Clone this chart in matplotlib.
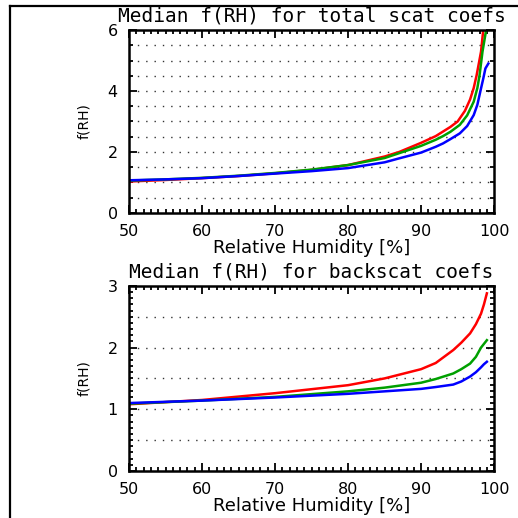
import matplotlib
matplotlib.use('Agg')
import matplotlib.pyplot as plt
from matplotlib.lines import Line2D
from matplotlib.ticker import MultipleLocator

# median f(RH) for total scattering coefficients
rh_tot_red = [50, 55, 60, 65, 70, 75, 80, 85, 87, 90, 92, 93, 94, 95, 96, 96.7, 97.2, 97.6, 98.2, 98.5]
tot_red = [1.03, 1.08, 1.14, 1.21, 1.30, 1.41, 1.57, 1.85, 2.0, 2.3, 2.52, 2.67, 2.82, 3.0, 3.35, 3.72, 4.1, 4.52, 5.29, 6.0]
rh_tot_green = [50, 55, 60, 65, 70, 75, 80, 85, 87, 90, 92, 93, 94, 95.3, 96.3, 97.2, 97.7, 98, 98.4, 98.9]
tot_green = [1.06, 1.10, 1.15, 1.22, 1.31, 1.42, 1.57, 1.80, 1.96, 2.2, 2.4, 2.52, 2.66, 2.89, 3.2, 3.65, 4.1, 4.52, 5.29, 6.0]
rh_tot_blue = [50, 55, 60, 65, 70, 75, 80, 85, 87, 90, 92, 93, 94, 95.3, 96.3, 97.2, 97.7, 98.1, 98.5, 98.8, 99.2]
tot_blue = [1.07, 1.10, 1.14, 1.21, 1.29, 1.37, 1.47, 1.66, 1.79, 1.98, 2.17, 2.28, 2.42, 2.61, 2.85, 3.21, 3.55, 3.98, 4.4, 4.74, 4.9]

# median f(RH) for backscatter coefficients
rh_back = [50, 60, 70, 80, 85, 90, 92, 94.4, 95.5, 96.7, 97.5, 98.2, 98.6, 99.0]
back_red = [1.08, 1.15, 1.26, 1.39, 1.50, 1.65, 1.75, 1.96, 2.08, 2.23, 2.38, 2.55, 2.7, 2.88]
back_green = [1.09, 1.14, 1.20, 1.29, 1.35, 1.43, 1.49, 1.58, 1.65, 1.74, 1.85, 2.0, 2.06, 2.12]
back_blue = [1.10, 1.14, 1.19, 1.25, 1.29, 1.33, 1.36, 1.40, 1.45, 1.53, 1.60, 1.68, 1.73, 1.77]

titles = ['Median f(RH) for total scat coefs', 'Median f(RH) for backscat coefs']
xlabel = 'Relative Humidity [%]'
ylabel = 'f(RH)'

red, green, blue = '#ff0000', '#00a000', '#0000ff'

plt.rcParams['font.family'] = 'DejaVu Sans'
fig = plt.figure(figsize=(5.18, 5.18), dpi=100)

ax1 = fig.add_axes([0.249, 0.589, 0.705, 0.353])
ax2 = fig.add_axes([0.249, 0.091, 0.705, 0.357])

panels = [
    (ax1, [(rh_tot_red, tot_red, red), (rh_tot_green, tot_green, green), (rh_tot_blue, tot_blue, blue)], 6, 2, 0.5),
    (ax2, [(rh_back, back_red, red), (rh_back, back_green, green), (rh_back, back_blue, blue)], 3, 1, 0.1),
]

for i, (ax, series, ymax, ymaj, ymin) in enumerate(panels):
    for x, y, c in series:
        ax.plot(x, y, color=c, lw=1.8)
    ax.set_xlim(50, 100)
    ax.set_ylim(0, ymax)
    ax.xaxis.set_major_locator(MultipleLocator(10))
    ax.xaxis.set_minor_locator(MultipleLocator(1))
    ax.yaxis.set_major_locator(MultipleLocator(ymaj))
    ax.yaxis.set_minor_locator(MultipleLocator(ymin))
    for k in range(1, int(ymax / 0.5)):
        ax.axhline(k * 0.5, color='#333333', lw=1.0, ls=(0, (1, 5)), zorder=0)
    ax.tick_params(which='both', direction='in', top=True, right=True, labelsize=11.5, width=1.3)
    ax.tick_params(which='major', length=6, pad=8)
    ax.tick_params(which='minor', length=3)
    for s in ax.spines.values():
        s.set_linewidth(1.8)
    ax.set_title(titles[i], fontsize=14, pad=6, family='DejaVu Sans Mono')
    ax.set_xlabel(xlabel, fontsize=13, labelpad=0)
    ax.set_ylabel(ylabel, fontsize=10, labelpad=12)

# page frame lines on the left and top
fig.add_artist(Line2D([0.0185, 0.0185], [0.0, 0.988], color='black', lw=1.6, transform=fig.transFigure))
fig.add_artist(Line2D([0.0185, 1.0], [0.988, 0.988], color='black', lw=1.6, transform=fig.transFigure))

fig.savefig('out.png', dpi=100)
